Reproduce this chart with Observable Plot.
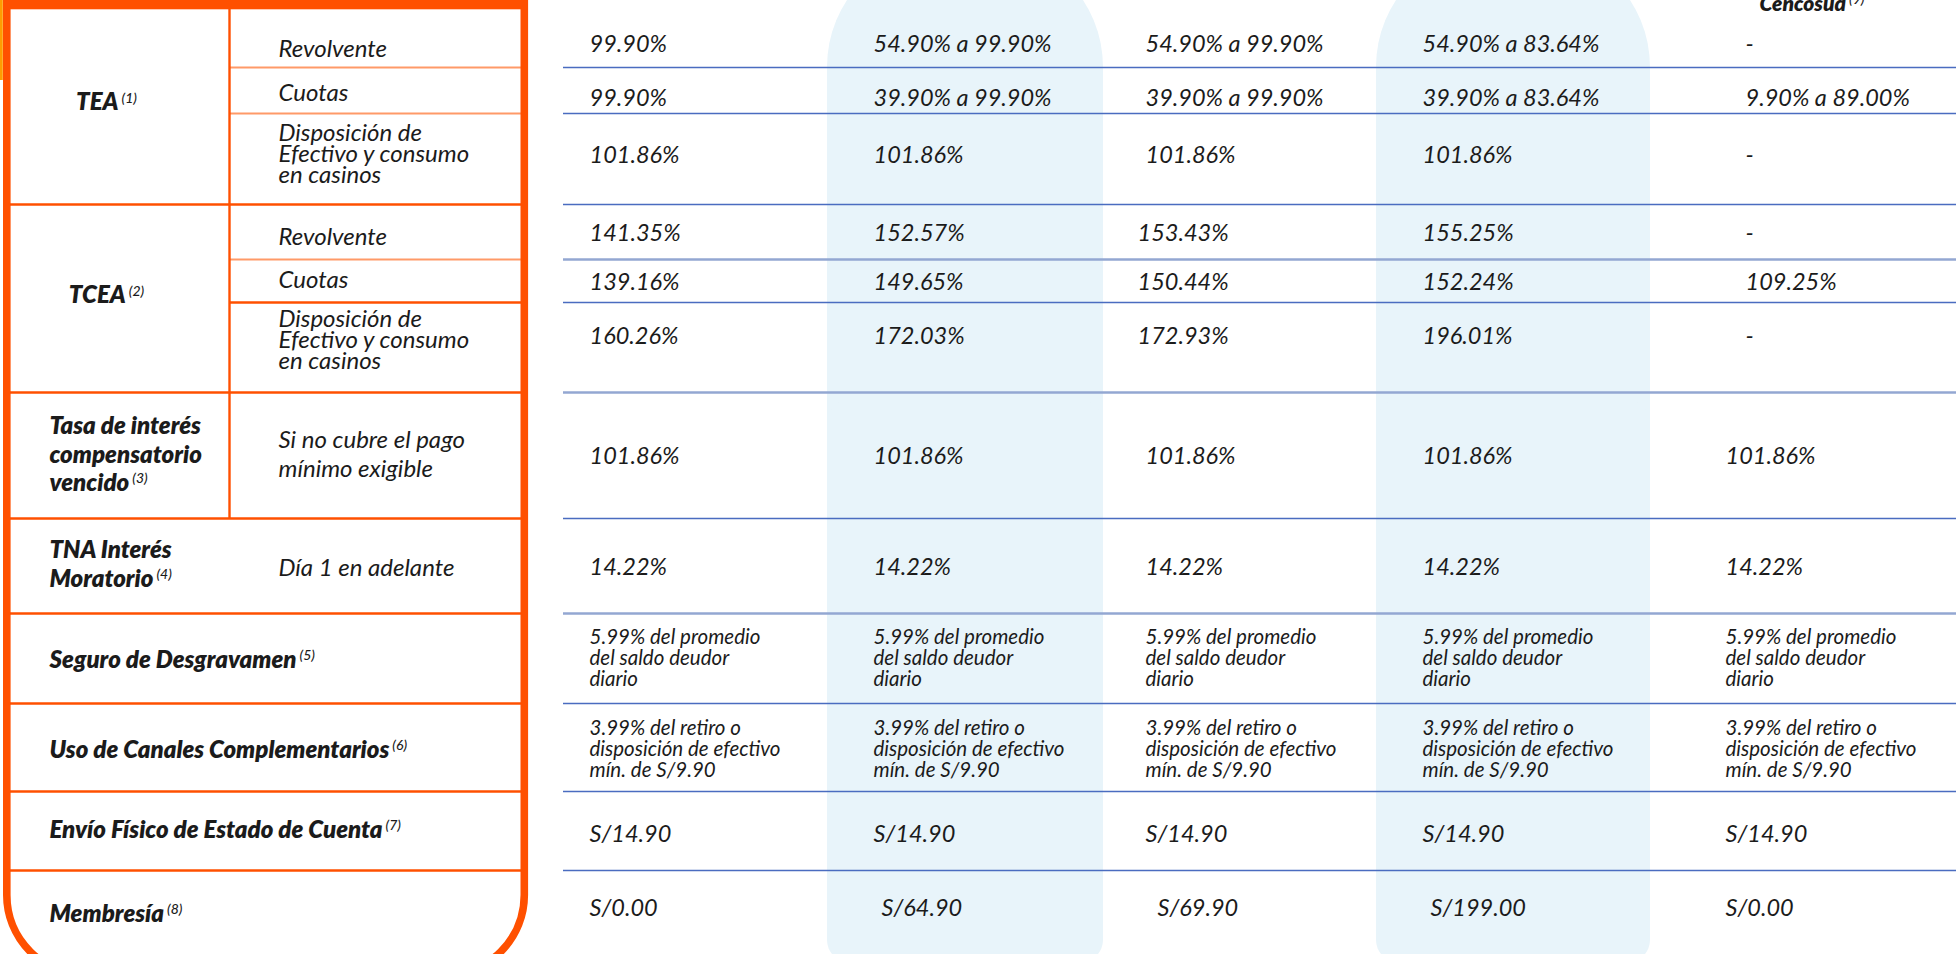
<!DOCTYPE html>
<html>
<head>
<meta charset="utf-8">
<script src="https://cdn.jsdelivr.net/npm/d3@7"></script>
<script src="https://cdn.jsdelivr.net/npm/@observablehq/plot@0.6"></script>
<style>
  html, body { margin: 0; padding: 0; background: #ffffff; overflow: hidden; }
  #chart svg { display: block; }
</style>
</head>
<body>
<div id="chart"></div>
<script>
// ================= DATA =================
const groupLabels = [
  "TEA",
  "TCEA",
  "Tasa de interés\ncompensatorio\nvencido",
  "TNA Interés\nMoratorio",
  "Seguro de Desgravamen",
  "Uso de Canales Complementarios",
  "Envío Físico de Estado de Cuenta",
  "Membresía"
];
const groupNotes = ["(1)", "(2)", "(3)", "(4)", "(5)", "(6)", "(7)", "(8)"];

const conditions = [
  "Revolvente",
  "Cuotas",
  "Disposición de\nEfectivo y consumo\nen casinos",
  "Revolvente",
  "Cuotas",
  "Disposición de\nEfectivo y consumo\nen casinos",
  "Si no cubre el pago\nmínimo exigible",
  "Día 1 en adelante"
];

const cardHeaders = ["", "", "", "", "Cencosud"];
const cardNotes = ["", "", "", "", "(9)"];

const seguroText = "5.99% del promedio\ndel saldo deudor\ndiario";
const canalesText = "3.99% del retiro o\ndisposición de efectivo\nmín. de S/9.90";

const card1 = ["99.90%", "99.90%", "101.86%", "141.35%", "139.16%", "160.26%", "101.86%", "14.22%", seguroText, canalesText, "S/14.90", "S/0.00"];
const card2 = ["54.90% a 99.90%", "39.90% a 99.90%", "101.86%", "152.57%", "149.65%", "172.03%", "101.86%", "14.22%", seguroText, canalesText, "S/14.90", "S/64.90"];
const card3 = ["54.90% a 99.90%", "39.90% a 99.90%", "101.86%", "153.43%", "150.44%", "172.93%", "101.86%", "14.22%", seguroText, canalesText, "S/14.90", "S/69.90"];
const card4 = ["54.90% a 83.64%", "39.90% a 83.64%", "101.86%", "155.25%", "152.24%", "196.01%", "101.86%", "14.22%", seguroText, canalesText, "S/14.90", "S/199.00"];
const card5 = ["-", "9.90% a 89.00%", "-", "-", "109.25%", "-", "101.86%", "14.22%", seguroText, canalesText, "S/14.90", "S/0.00"];
const cards = [card1, card2, card3, card4, card5];

// ================= LAYOUT =================
const W = 1956, H = 954;
const FONT = "Lato, 'Noto Sans', sans-serif";
const ORANGE = "#ff5000";
const ORANGE_LIGHT = "#ff9a68";
const BLUE = "#4a6cc0";
const BLUE_SOFT = "#93a7d2";
const HILITE = "#e8f4fa";
const INK = "#1b1b1b";

const frame = {left: 6.8, right: 524.3, divider: 229, top: 4.6, bottom: 975};
const rowEdges = [67, 113, 204, 259, 302, 392, 518, 613, 703, 791, 870];
const edgeFull = [false, false, true, false, false, true, true, true, true, true, true];
const edgeLightLeft = [true, true, false, true, false, false, false, false, false, false, false];
const edgeSoftRight = [false, false, false, true, false, true, false, true, false, false, false];
const rightLineStart = 563;

const groupY = [102, 295, 453, 563, 658, 748, 828, 912];
const groupX = [106, 106, 49, 49, 49, 49, 49, 49];
const groupAnchor = ["middle", "middle", "start", "start", "start", "start", "start", "start"];
const condX = 278;
const condY = [47, 91, 155, 235, 278, 341, 453, 566];
const condTight = [false, false, true, false, false, true, false, false];
const valueY = [44, 98, 155, 233, 282, 336, 456, 567, 658, 749, 834, 908];
const colX = [589, 873, 1145, 1422, 1725];
const colShiftTop = [0, 0, 0, 0, 20];   // last column's rate block sits slightly right
// small horizontal offsets of individual cells, keyed "row,col"
const cellNudge = {"3,2": -8, "4,2": -8, "5,2": -8, "11,1": 8, "11,2": 12, "11,3": 8};
const highlightCols = [
  {x1: 827, x2: 1103},
  {x1: 1376, x2: 1650}
];
const headerY = 4;

// ================= BUILD =================
const groupRows = groupLabels.map((label, i) => ({
  label, note: groupNotes[i], x: groupX[i], y: groupY[i], anchor: groupAnchor[i]
}));
const condRows = conditions.map((label, i) => ({label, x: condX, y: condY[i], tight: condTight[i]}));
const cells = [];
cards.forEach((col, c) => col.forEach((text, r) => {
  cells.push({
    text,
    x: colX[c] + (r < 6 ? colShiftTop[c] : 0) + (cellNudge[`${r},${c}`] || 0),
    y: valueY[r],
    multi: text.includes("\n")
  });
}));
const headers = cardHeaders
  .map((h, c) => ({label: h, note: cardNotes[c], x: colX[c] + 34, y: headerY}))
  .filter(d => d.label);

const edges = rowEdges.map((y, i) => ({
  y, full: edgeFull[i], light: edgeLightLeft[i], soft: edgeSoftRight[i]
}));

const xScale = {type: "linear", domain: [0, W], range: [0, W], axis: null};
const yScale = {type: "linear", domain: [0, H], range: [0, H], axis: null};

const textBase = {fontFamily: FONT, fill: INK, lineAnchor: "middle"};

const plot = Plot.plot({
  width: W,
  height: H,
  margin: 0,
  x: xScale,
  y: yScale,
  style: {background: "#ffffff", overflow: "visible"},
  marks: [
    // highlighted card columns: pill top + softly rounded bottom
    Plot.rect(highlightCols, {x1: d => d.x1, x2: d => d.x2, y1: () => -55, y2: () => 720, fill: HILITE, rx: 122, ry: 122}),
    Plot.rect(highlightCols, {x1: d => d.x1, x2: d => d.x2, y1: () => 400, y2: () => 962, fill: HILITE, rx: 22, ry: 22}),

    // right table rules
    Plot.ruleY(edges, {
      y: d => d.y, x1: () => rightLineStart, x2: () => W,
      stroke: d => d.soft ? BLUE_SOFT : BLUE,
      strokeWidth: d => d.soft ? 2.4 : 1.5
    }),

    // left table rules
    Plot.ruleY(edges, {
      y: d => d.y,
      x1: d => d.full ? frame.left : frame.divider,
      x2: () => frame.right,
      stroke: d => d.light ? ORANGE_LIGHT : ORANGE,
      strokeWidth: d => d.light ? 2 : 2.4
    }),
    Plot.ruleX([frame.divider], {x: d => d, y1: () => 0, y2: () => 518, stroke: ORANGE, strokeWidth: 2.4}),

    // orange frame
    Plot.rect([frame], {
      x1: d => d.left, x2: d => d.right, y1: () => -200, y2: d => d.bottom,
      fill: "none", stroke: ORANGE, strokeWidth: 7.6, rx: 80, ry: 80
    }),
    Plot.rect([frame], {x1: () => 3, x2: () => 528, y1: () => 0, y2: () => 9.3, fill: ORANGE}),
    Plot.rect([frame], {x1: () => 0, x2: () => 2.8, y1: () => 0, y2: () => 80, fill: "#ff9c00"}),

    // group labels
    Plot.text(groupRows, {
      ...textBase, x: "x", y: "y", text: "label", textAnchor: "start",
      filter: d => d.anchor === "start",
      fontSize: 24, fontWeight: 800, fontStyle: "italic", lineHeight: 1.17,
      ariaDescription: "group-start"
    }),
    Plot.text(groupRows, {
      ...textBase, x: "x", y: "y", text: "label", textAnchor: "middle",
      filter: d => d.anchor === "middle",
      fontSize: 24, fontWeight: 800, fontStyle: "italic",
      ariaDescription: "group-middle"
    }),

    // condition labels
    Plot.text(condRows, {
      ...textBase, x: "x", y: "y", text: "label", textAnchor: "start",
      filter: d => d.tight, fontSize: 24, fontStyle: "italic", lineHeight: 0.86
    }),
    Plot.text(condRows, {
      ...textBase, x: "x", y: "y", text: "label", textAnchor: "start",
      filter: d => !d.tight, fontSize: 24, fontStyle: "italic", lineHeight: 1.17
    }),

    // card column header
    Plot.text(headers, {
      ...textBase, x: "x", y: "y", text: "label", textAnchor: "start",
      fontSize: 21, fontWeight: 800, fontStyle: "italic",
      ariaDescription: "card-header"
    }),

    // values
    Plot.text(cells, {
      ...textBase, x: "x", y: "y", text: "text", textAnchor: "start",
      filter: d => !d.multi, fontSize: 23.5, fontStyle: "italic"
    }),
    Plot.text(cells, {
      ...textBase, x: "x", y: "y", text: "text", textAnchor: "start",
      filter: d => d.multi, fontSize: 20.5, fontStyle: "italic", lineHeight: 1.03
    })
  ]
});

// footnote superscripts appended to the library-drawn labels
function addNotes(desc, rows) {
  const g = Array.from(plot.querySelectorAll("g")).find(n => n.getAttribute("aria-description") === desc);
  if (!g) return;
  d3.select(g).selectAll("text").each(function(_, i) {
    if (!rows[i]) return;
    const t = d3.select(this);
    const spans = t.selectAll("tspan");
    const host = spans.size() ? d3.select(spans.nodes()[spans.size() - 1]) : t;
    host.append("tspan")
      .attr("dx", 3)
      .attr("dy", -7.5)
      .attr("font-size", 14)
      .attr("font-weight", 500)
      .text(rows[i].note);
  });
}
addNotes("group-start", groupRows.filter(d => d.anchor === "start"));
addNotes("group-middle", groupRows.filter(d => d.anchor === "middle"));
addNotes("card-header", headers);

document.getElementById("chart").appendChild(plot);
</script>
</body>
</html>
